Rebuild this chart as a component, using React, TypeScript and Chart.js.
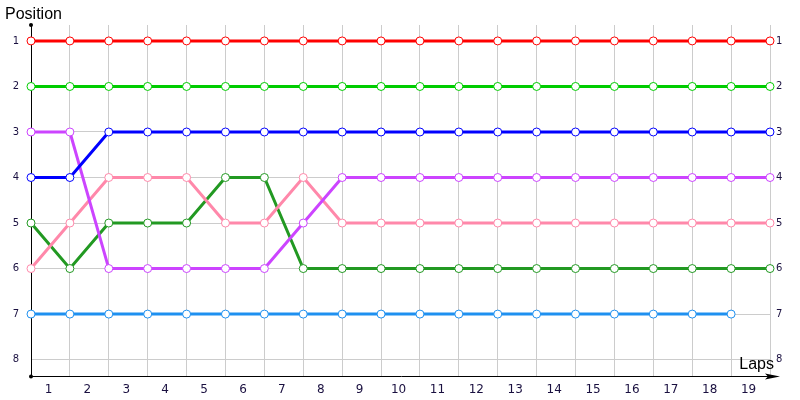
import { useEffect, useRef } from "react";
import { Chart, registerables } from "chart.js";

Chart.register(...registerables);

// positions per lap index (0..19)
const seriesColors = ["#ff0000", "#00cc00", "#0000ff", "#cc44ff", "#ff88aa", "#229922", "#1e90f0"];
const redPos = [1, 1, 1, 1, 1, 1, 1, 1, 1, 1, 1, 1, 1, 1, 1, 1, 1, 1, 1, 1];
const greenPos = [2, 2, 2, 2, 2, 2, 2, 2, 2, 2, 2, 2, 2, 2, 2, 2, 2, 2, 2, 2];
const bluePos = [4, 4, 3, 3, 3, 3, 3, 3, 3, 3, 3, 3, 3, 3, 3, 3, 3, 3, 3, 3];
const magentaPos = [3, 3, 6, 6, 6, 6, 6, 5, 4, 4, 4, 4, 4, 4, 4, 4, 4, 4, 4, 4];
const pinkPos = [6, 5, 4, 4, 4, 5, 5, 4, 5, 5, 5, 5, 5, 5, 5, 5, 5, 5, 5, 5];
const darkGreenPos = [5, 6, 5, 5, 5, 4, 4, 6, 6, 6, 6, 6, 6, 6, 6, 6, 6, 6, 6, 6];
const lightBluePos = [7, 7, 7, 7, 7, 7, 7, 7, 7, 7, 7, 7, 7, 7, 7, 7, 7, 7, 7];
const lapLabels = ["1", "2", "3", "4", "5", "6", "7", "8", "9", "10", "11", "12", "13", "14", "15", "16", "17", "18", "19"];
const positionTicks = [1, 2, 3, 4, 5, 6, 7, 8];

const allSeries = [redPos, greenPos, bluePos, magentaPos, pinkPos, darkGreenPos, lightBluePos];

const decorations = {
  id: "decorations",
  afterDraw(chart: Chart) {
    const { ctx, chartArea } = chart;
    const { left, top, bottom } = chartArea;
    const yb = bottom + 0.5;
    ctx.save();
    ctx.strokeStyle = "#000";
    ctx.fillStyle = "#000";
    ctx.lineWidth = 1;
    // x axis line with arrow
    ctx.beginPath();
    ctx.moveTo(left, yb);
    ctx.lineTo(772, yb);
    ctx.stroke();
    ctx.beginPath();
    ctx.moveTo(780, yb);
    ctx.lineTo(765, yb - 3);
    ctx.lineTo(768, yb);
    ctx.lineTo(765, yb + 3);
    ctx.closePath();
    ctx.fill();
    // dots at y axis ends
    ctx.beginPath();
    ctx.arc(left, top, 2, 0, Math.PI * 2);
    ctx.fill();
    ctx.beginPath();
    ctx.arc(left, yb, 2, 0, Math.PI * 2);
    ctx.fill();
    // titles
    ctx.font = "16px 'Liberation Sans', sans-serif";
    ctx.textBaseline = "middle";
    ctx.textAlign = "left";
    ctx.fillText("Position", 5, 15);
    ctx.textAlign = "right";
    ctx.fillText("Laps", 774, 365);
    ctx.restore();
  },
};

const App = () => {
  const canvasRef = useRef<HTMLCanvasElement | null>(null);

  useEffect(() => {
    if (!canvasRef.current) return;

    const chart = new Chart(canvasRef.current, {
      type: "line",
      data: {
        datasets: allSeries.map((pos, i) => ({
          data: pos.map((y, x) => ({ x, y })),
          borderColor: seriesColors[i],
          backgroundColor: "#ffffff",
          pointBackgroundColor: "#ffffff",
          pointBorderColor: seriesColors[i],
          pointBorderWidth: 1,
          pointRadius: 4,
          borderWidth: 3,
          tension: 0,
          clip: false as const,
        })),
      },
      options: {
        animation: false,
        responsive: true,
        maintainAspectRatio: false,
        layout: { padding: { top: 25, left: 0, right: 0, bottom: 0 } },
        plugins: {
          legend: { display: false },
          tooltip: { enabled: false },
        },
        scales: {
          x: {
            type: "linear",
            position: "bottom",
            min: 0,
            max: 19,
            afterBuildTicks: (axis) => {
              axis.ticks = Array.from({ length: 20 }, (_, i) => ({ value: i }));
            },
            afterFit: (axis) => {
              axis.height = 0;
            },
            grid: { color: "#cccccc", lineWidth: 1, drawTicks: false },
            border: { display: false },
            ticks: { display: false },
          },
          xl: {
            type: "linear",
            position: "bottom",
            min: 0,
            max: 19,
            afterBuildTicks: (axis) => {
              axis.ticks = lapLabels.map((_, i) => ({ value: i + 0.45 }));
            },
            afterFit: (axis) => {
              axis.height = 24;
            },
            grid: { display: false, drawTicks: false },
            border: { display: false },
            ticks: {
              padding: 7,
              color: "#1a1040",
              font: { family: "'DejaVu Sans', sans-serif", size: 12 },
              callback: (v) => lapLabels[Math.floor(Number(v))],
              autoSkip: false,
              maxRotation: 0,
            },
          },
          y: {
            type: "linear",
            position: "left",
            reverse: true,
            min: 0.65,
            max: 8.36,
            afterBuildTicks: (axis) => {
              axis.ticks = positionTicks.map((v) => ({ value: v }));
            },
            afterFit: (axis) => {
              axis.width = 31;
            },
            grid: { color: "#cccccc", lineWidth: 1, drawTicks: false },
            border: { display: true, color: "#000000", width: 1 },
            ticks: {
              padding: 12,
              color: "#1a1040",
              font: { family: "'DejaVu Sans', sans-serif", size: 10 },
            },
          },
          y2: {
            type: "linear",
            position: "right",
            reverse: true,
            min: 0.65,
            max: 8.36,
            afterBuildTicks: (axis) => {
              axis.ticks = positionTicks.map((v) => ({ value: v }));
            },
            afterFit: (axis) => {
              axis.width = 30;
            },
            grid: { display: false, drawTicks: false },
            border: { display: false },
            ticks: {
              padding: 6,
              color: "#1a1040",
              font: { family: "'DejaVu Sans', sans-serif", size: 10 },
            },
          },
        },
      },
      plugins: [decorations],
    });

    return () => {
      chart.destroy();
    };
  }, []);

  return (
    <div style={{ position: "fixed", left: 0, top: 0, width: 800, height: 400, background: "#fff" }}>
      <canvas ref={canvasRef}></canvas>
    </div>
  );
};

export default App;
